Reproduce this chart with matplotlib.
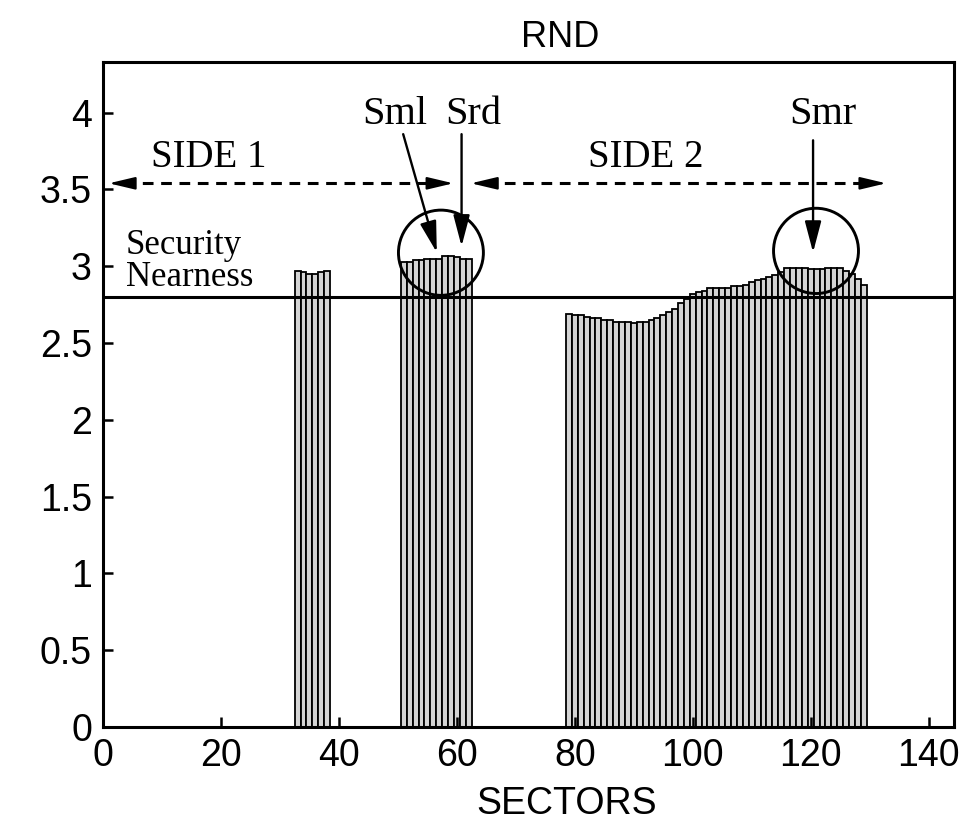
import numpy as np
import matplotlib
matplotlib.use("Agg")
import matplotlib.pyplot as plt
from matplotlib.patches import Ellipse

# bar groups (sector number, RND value)
sectors_a = list(range(33, 39))
rnd_a = [2.97, 2.96, 2.95, 2.95, 2.96, 2.97]

sectors_b = list(range(51, 63))
rnd_b = [3.03, 3.03, 3.04, 3.04, 3.045, 3.05, 3.05, 3.065, 3.07, 3.06, 3.05, 3.05]

sectors_c = list(range(79, 130))
rnd_c = [2.69, 2.68, 2.68, 2.67, 2.66, 2.66, 2.65, 2.65, 2.64, 2.64,
         2.64, 2.63, 2.64, 2.64, 2.65, 2.66, 2.68, 2.70, 2.72, 2.76,
         2.79, 2.82, 2.83, 2.84, 2.86, 2.86, 2.86, 2.86, 2.87, 2.87,
         2.88, 2.90, 2.91, 2.92, 2.93, 2.94, 2.96, 2.99, 2.99, 2.99,
         2.99, 2.98, 2.98, 2.98, 2.99, 2.99, 2.99, 2.97, 2.95, 2.92,
         2.88]

security_nearness = 2.8
xticks = [0, 20, 40, 60, 80, 100, 120, 140]
yticks = [0, 0.5, 1, 1.5, 2, 2.5, 3, 3.5, 4]
ytick_labels = ["0", "0.5", "1", "1.5", "2", "2.5", "3", "3.5", "4"]

sans = "Liberation Sans"
serif = "Liberation Serif"

fig = plt.figure(figsize=(9.59, 8.23), dpi=100)
ax = fig.add_axes([0.1074, 0.1166, 0.8874, 0.8081])

for xs, ys in [(sectors_a, rnd_a), (sectors_b, rnd_b), (sectors_c, rnd_c)]:
    ax.bar(xs, ys, width=1.0, color="#d4d4d4", edgecolor="black", linewidth=1.3)

ax.axhline(security_nearness, color="black", lw=2.2, zorder=5)

ax.set_xlim(0, 144.3)
ax.set_ylim(0, 4.33)
ax.set_xticks(xticks)
ax.set_xticklabels([str(t) for t in xticks], fontfamily=sans, fontsize=27)
ax.set_yticks(yticks)
ax.set_yticklabels(ytick_labels, fontfamily=sans, fontsize=27)
ax.tick_params(direction="in", length=7, width=1.8, pad=8)
for s in ax.spines.values():
    s.set_linewidth(2.2)

ax.set_xlabel("SECTORS", fontfamily=sans, fontsize=27)
ax.xaxis.set_label_coords(0.545, -0.088)
ax.set_title("RND", fontfamily=sans, fontsize=26, pad=11, x=0.537)

# dashed double arrows for the two sides
y_side = 3.54
for x0, x1 in [(1.0, 59.4), (62.4, 132.8)]:
    ax.plot([x0 + 2.5, x1 - 2.5], [y_side, y_side], color="black", lw=2.2,
            linestyle=(0, (3.5, 2.5)), zorder=6)
    for a, b in [(x0 + 3, x0), (x1 - 3, x1)]:
        ax.annotate("", xy=(b, y_side), xytext=(a, y_side),
                    arrowprops=dict(arrowstyle="-|>,head_length=1.6,head_width=0.38",
                                    color="black", lw=1.5, shrinkA=0, shrinkB=0),
                    zorder=6)

ax.text(18, 3.71, "SIDE 1", fontfamily=serif, fontsize=28, ha="center", va="center")
ax.text(92, 3.71, "SIDE 2", fontfamily=serif, fontsize=28, ha="center", va="center")

# pointer arrows
pointers = [("Sml", (49.5, 3.99), (50.9, 3.86), (56.6, 3.09)),
            ("Srd", (62.8, 3.99), (60.8, 3.86), (60.8, 3.13)),
            ("Smr", (122.0, 3.99), (120.4, 3.82), (120.4, 3.09))]
for label, tpos, start, tip in pointers:
    ax.text(tpos[0], tpos[1], label, fontfamily=serif, fontsize=29,
            ha="center", va="center")
    ax.annotate("", xy=tip, xytext=start,
                arrowprops=dict(arrowstyle="-|>,head_length=1.9,head_width=0.5",
                                color="black", lw=1.7, shrinkA=0, shrinkB=0),
                zorder=7)

# circles around the peaks
for cx, cy in [(57.3, 3.088), (120.9, 3.10)]:
    ax.add_patch(Ellipse((cx, cy), width=14.4, height=0.555, fill=False,
                         edgecolor="black", lw=2.1, zorder=7))

ax.text(3.9, 3.03, "Security\nNearness", fontfamily=serif, fontsize=25,
        ha="left", va="center", linespacing=0.95)

fig.savefig("out.png", dpi=100)
